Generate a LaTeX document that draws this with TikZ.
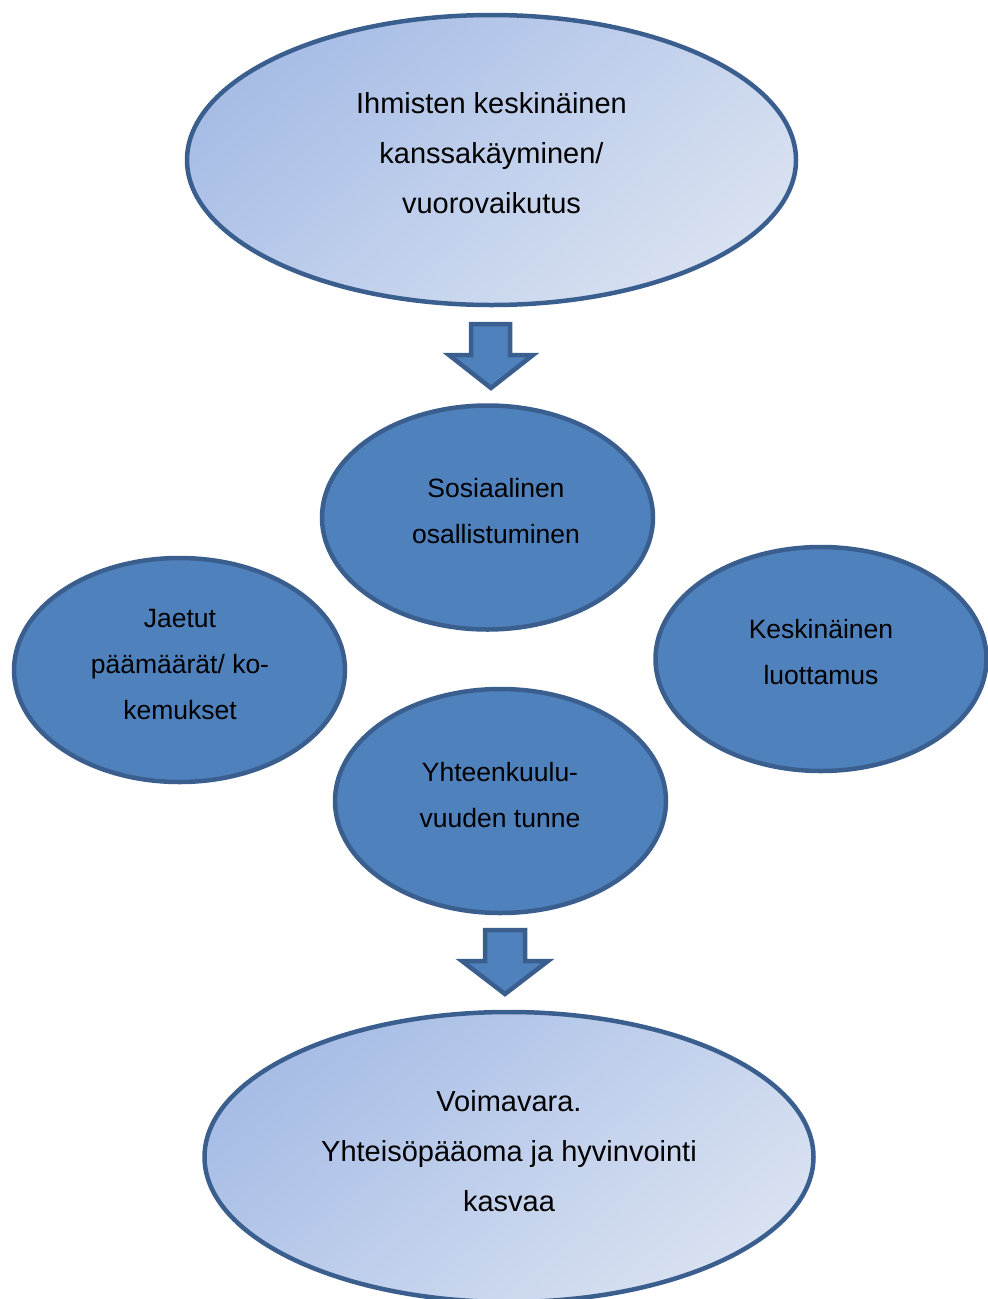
\documentclass[tikz,border=0pt]{standalone}
\usepackage{fontspec}
\setmainfont{Liberation Sans}
\usetikzlibrary{shapes.geometric}
\definecolor{edgeblue}{HTML}{3A5F8E}
\definecolor{midblue}{HTML}{4F81BD}
\definecolor{lightA}{HTML}{A7BDE6}
\definecolor{lightB}{HTML}{D8E1F1}
\tikzset{
  bigell/.style={ellipse, draw=edgeblue, line width=4.5pt, top color=lightA, bottom color=lightB, shading angle=40, inner sep=0pt, minimum width=609pt, minimum height=290pt},
  midell/.style={ellipse, draw=edgeblue, line width=4.5pt, fill=midblue, inner sep=0pt, minimum width=331pt, minimum height=224pt},
  bigtxt/.style={align=center, font=\fontsize{29}{50}\selectfont, text=black},
  midtxt/.style={align=center, font=\fontsize{26.5}{46}\selectfont, text=black},
  blockarrow/.style={draw=edgeblue, line width=4.5pt, fill=midblue, line join=miter}
}
\begin{document}
\begin{tikzpicture}[x=1pt,y=-1pt]
\useasboundingbox (0,0) rectangle (988,1299);
\node[bigell] (top) at (491.5,160) {};
\node[bigtxt] (toptext) at (491.5,153) {Ihmisten keskinäinen\\kanssakäyminen/\\vuorovaikutus};

\node[midell] (sos) at (487.5,517.5) {};
\node[midtxt] (sostext) at (496,511) {Sosiaalinen\\osallistuminen};

\node[midell] (jae) at (179.5,670) {};
\node[midtxt] (jaetext) at (180,665) {Jaetut\\päämäärät/ ko-\\kemukset};

\node[midell] (kes) at (821,659) {};
\node[midtxt] (kestext) at (821,652) {Keskinäinen\\luottamus};

\node[midell] (yht) at (500.5,801) {};
\node[midtxt] (yhttext) at (500,795) {Yhteenkuulu-\\vuuden tunne};

\node[bigell] (bot) at (509,1157) {};
\node[bigtxt] (bottext) at (509,1151) {Voimavara.\\Yhteisöpääoma ja hyvinvointi\\kasvaa};

% block arrows
\draw[blockarrow] (471,324) -- (510,324) -- (510,355) -- (533,355) -- (491,388) -- (449,355) -- (471,355) -- cycle;
\draw[blockarrow] (485,930) -- (525,930) -- (525,961) -- (548,961) -- (505,994) -- (462,961) -- (485,961) -- cycle;
\end{tikzpicture}
\end{document}
